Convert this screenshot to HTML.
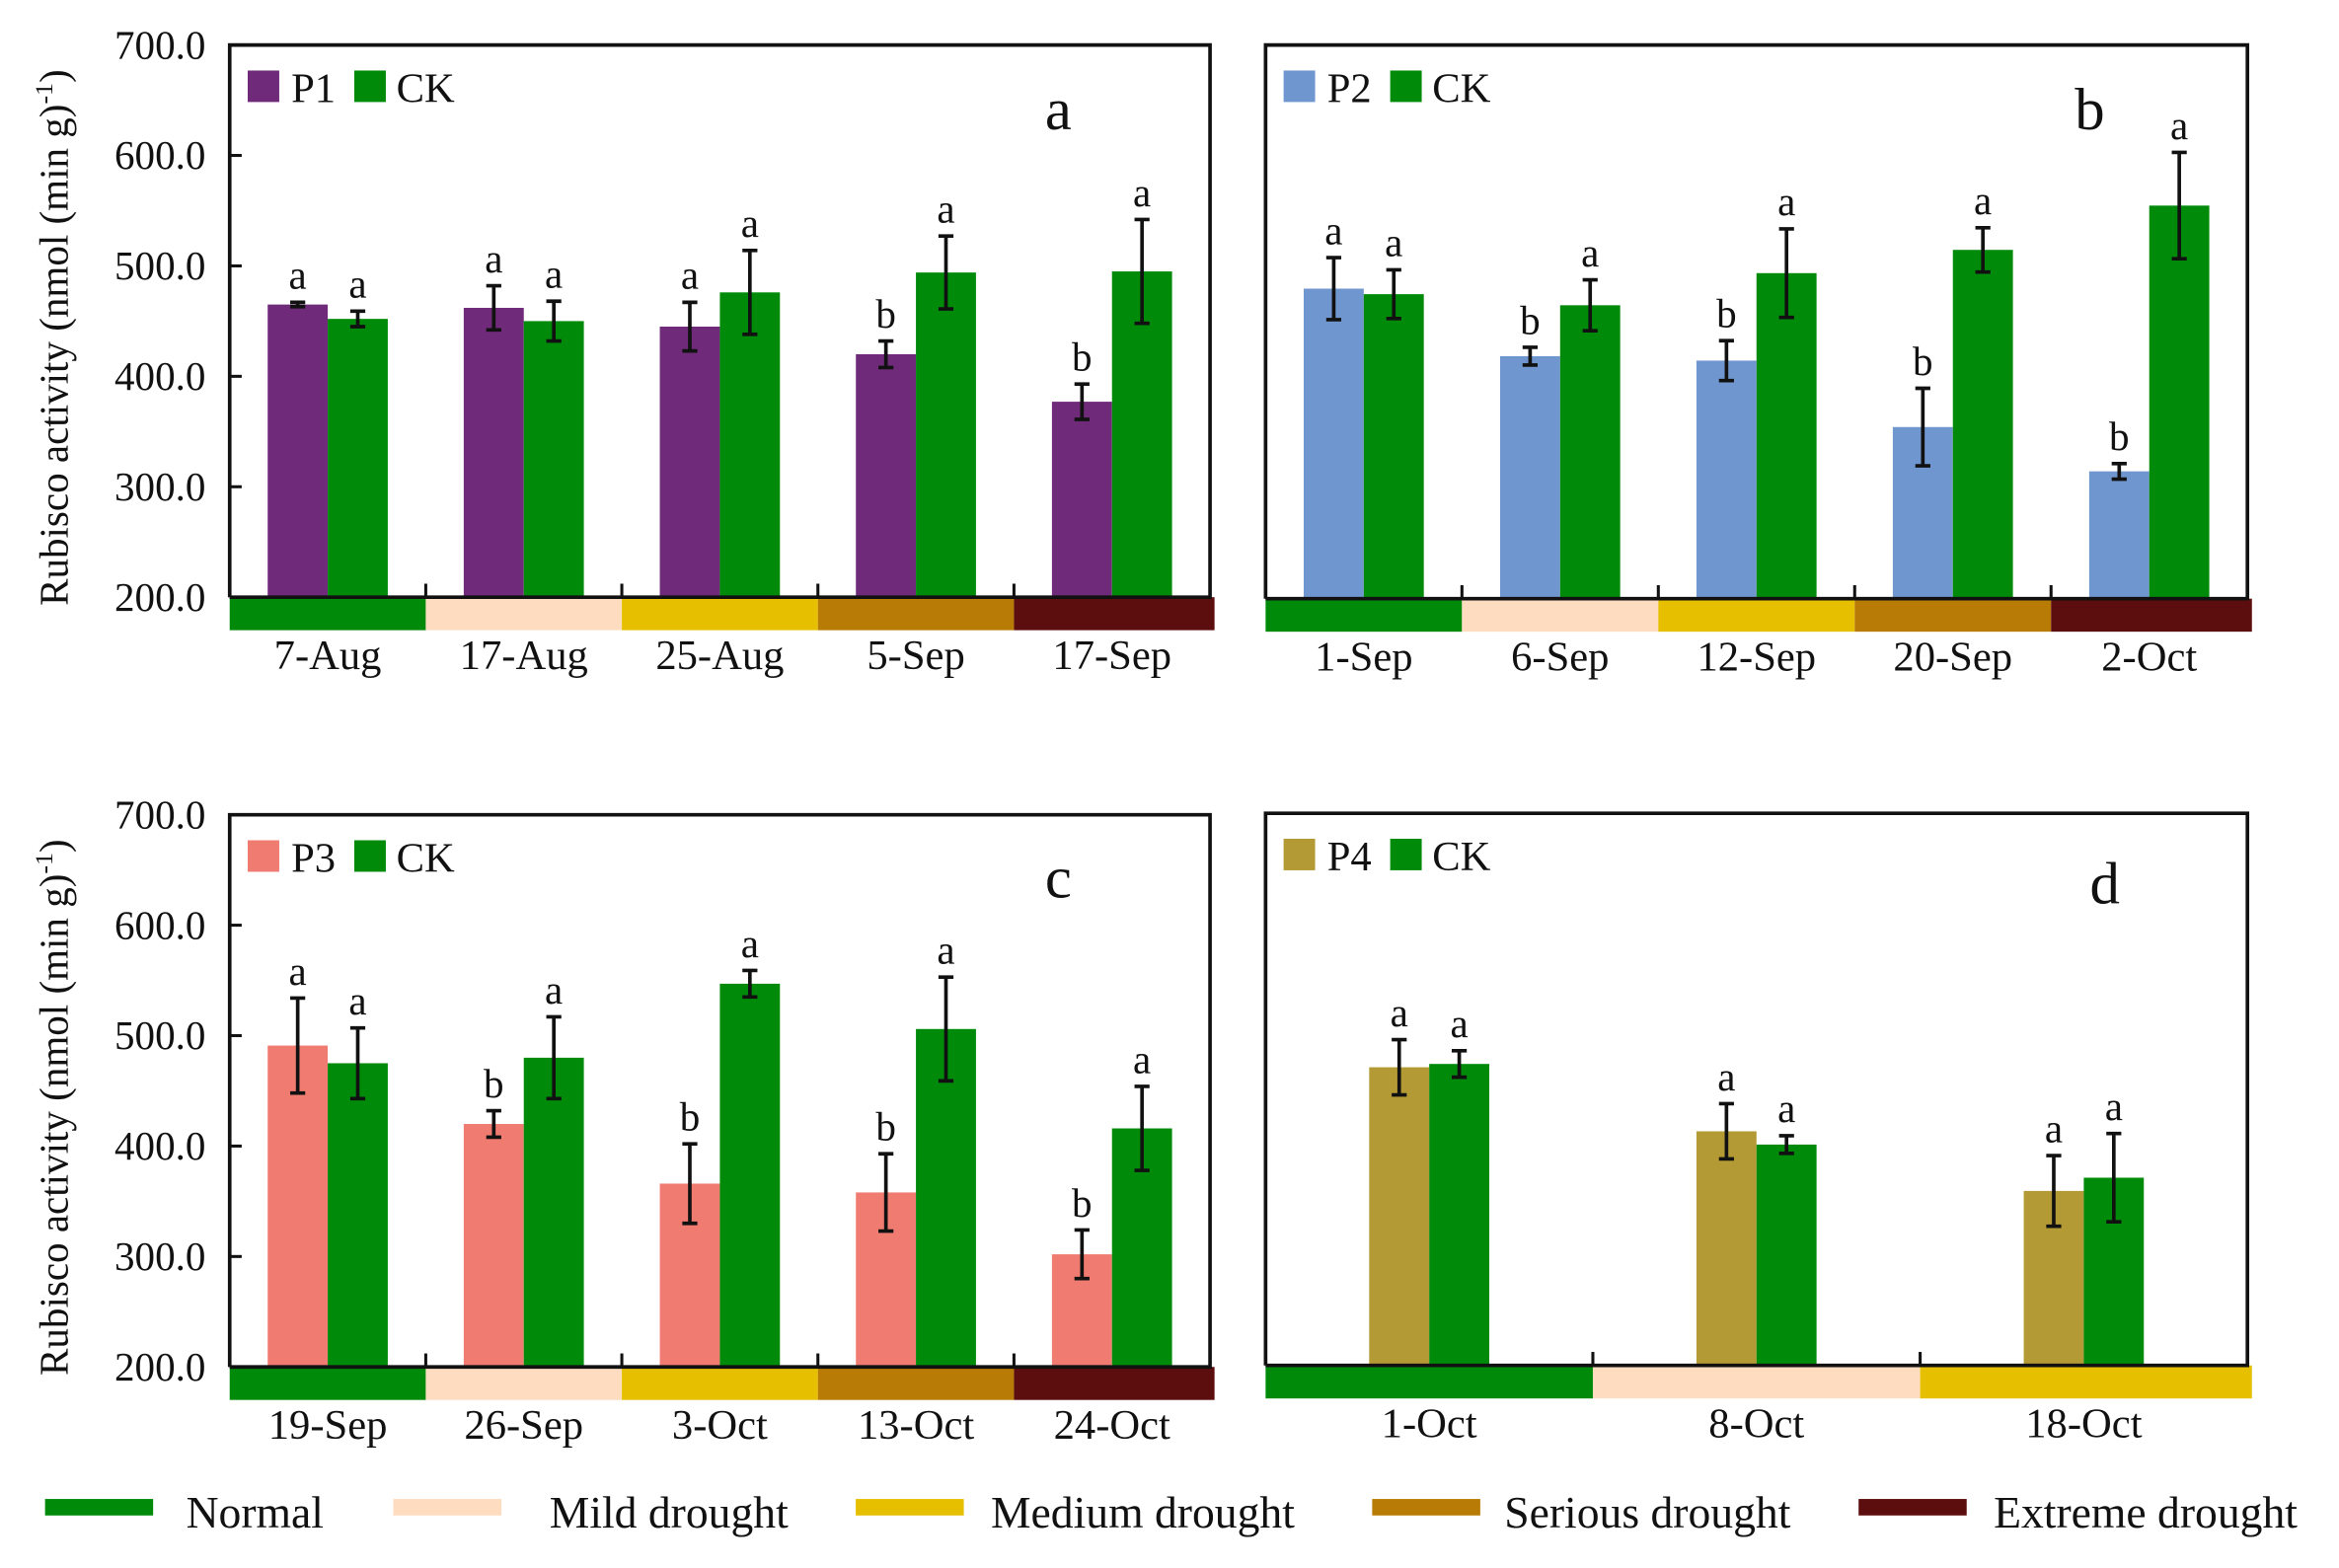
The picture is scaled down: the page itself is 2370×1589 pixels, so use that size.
<!DOCTYPE html>
<html><head><meta charset="utf-8"><style>
html,body{margin:0;padding:0;background:#fff}
svg{display:block}
text{font-family:"Liberation Serif",serif;fill:#111}
</style></head><body>
<svg id="chart" width="2370" height="1589" viewBox="0 0 1558 1045" preserveAspectRatio="none"></svg>
<script>
const panelIds=['a','b','c','d'];
const catsA=['7-Aug','17-Aug','25-Aug','5-Sep','17-Sep'];
const catsB=['1-Sep','6-Sep','12-Sep','20-Sep','2-Oct'];
const catsC=['19-Sep','26-Sep','3-Oct','13-Oct','24-Oct'];
const catsD=['1-Oct','8-Oct','18-Oct'];
const trtA=[465,462,445,420,377], trtAErr=[2,20,22,12,16];
const ckA=[452,450,476,494,495], ckAErr=[7,18,38,33,47];
const trtB=[480,419,415,355,315], trtBErr=[28,8,18,35,7];
const ckB=[475,465,494,515,555], ckBErr=[22,23,40,20,48];
const trtC=[491,420,366,358,302], trtCErr=[43,12,36,35,22];
const ckC=[475,480,547,506,416], ckCErr=[32,37,12,47,38];
const trtD=[470,412,358], trtDErr=[25,25,32];
const ckD=[473,400,370], ckDErr=[12,8,40];
const letA=['a','a','a','b','b'], letB=['a','b','b','b','b'], letC=['a','b','b','b','b'], letD=['a','a','a'];
const yTicks=[200,300,400,500,600,700];
const trtNames=['P1','P2','P3','P4'];
const droughtLabels=['Normal','Mild drought','Medium drought','Serious drought','Extreme drought'];
const droughtColors=['#008a0a','#fddcbf','#e6c000','#b87b05','#5c0d0d'];
const trtColors=['#6f2a7a','#7096cf','#f07b70','#b39a34'];
const CK='#008a0a';
const panels=[
 {x0:153,x1:806,top:30,bot:398,cats:catsA,t:trtA,te:trtAErr,c:ckA,ce:ckAErr,let:letA,lx:705,ly:86,yl:true},
 {x0:843,x1:1497,top:30,bot:399,cats:catsB,t:trtB,te:trtBErr,c:ckB,ce:ckBErr,let:letB,lx:1392,ly:86,yl:false},
 {x0:153,x1:806,top:543,bot:911,cats:catsC,t:trtC,te:trtCErr,c:ckC,ce:ckCErr,let:letC,lx:705,ly:598,yl:true},
 {x0:843,x1:1497,top:542,bot:910,cats:catsD,t:trtD,te:trtDErr,c:ckD,ce:ckDErr,let:letD,lx:1402,ly:602,yl:false}
];
const svg=document.getElementById('chart');
const NS='http://www.w3.org/2000/svg';
function mk(tag,attrs,parent,txt){const e=document.createElementNS(NS,tag);for(const k in attrs)e.setAttribute(k,attrs[k]);if(txt!==undefined)e.textContent=txt;(parent||svg).appendChild(e);return e;}
panels.forEach((p,pi)=>{
 const g=mk('g',{});
 
 
 const y=v=>p.bot-(v-200)*(p.bot-p.top)/500;
 const n=p.cats.length, sw=(p.x1-p.x0)/n, bw=40;
 p.cats.forEach((c,i)=>{
  const r=mk('rect',{x:p.x0+i*sw,y:p.bot,width:sw+(i==n-1?3:0),height:22,fill:droughtColors[i]},g);
  
  
 });
 p.cats.forEach((c,i)=>{
  const cx=p.x0+(i+0.5)*sw;
  [[p.t[i],p.te[i],trtColors[pi],cx-bw,p.let[i],'trt'],[p.c[i],p.ce[i],CK,cx,'a','ck']].forEach(([v,e,col,bx,l,nm])=>{
   const b=mk('rect',{x:bx,y:y(v),width:bw,height:p.bot-y(v),fill:col},g);
   
   
   const ex=bx+bw/2;
   const eb=mk('path',{d:`M${ex},${y(v+e)}V${y(v-e)}M${ex-5},${y(v+e)}H${ex+5}M${ex-5},${y(v-e)}H${ex+5}`,stroke:'#111','stroke-width':2.4,fill:'none'},g);
   
   
   const t=mk('text',{x:ex,y:y(v+e)-9,'font-size':27,'text-anchor':'middle'},g,l);
   
   
  });
  const xl=mk('text',{x:cx,y:p.bot+48,'font-size':28,'text-anchor':'middle'},g,c);
  
  
  if(i>0) mk('line',{x1:p.x0+i*sw,x2:p.x0+i*sw,y1:p.bot,y2:p.bot-9,stroke:'#111','stroke-width':2},g);
 });
 const fr=mk('path',{d:`M${p.x0},${p.bot}V${p.top}H${p.x1}V${p.bot}H${p.x0}`,stroke:'#111','stroke-width':2.4,fill:'none'},g);
 
 
 if(p.yl){
  yTicks.forEach(v=>{
   mk('line',{x1:p.x0,x2:p.x0+8,y1:y(v),y2:y(v),stroke:'#111','stroke-width':2},g);
   const tl=mk('text',{x:p.x0-16,y:y(v)+9,'font-size':27,'text-anchor':'end'},g,v.toFixed(1));
   
   
  });
  const cy=(p.top+p.bot+22)/2;
  const yt=mk('text',{x:0,y:0,'font-size':27,'text-anchor':'middle',transform:`translate(45,${cy}) rotate(-90)`},g);
  
  
  yt.innerHTML='Rubisco activity (nmol (min g)<tspan dy="-10" font-size="17">-1</tspan><tspan dy="10">)</tspan>';
 }
 const lx=p.x0+12, ly=p.top+17;
 const lg=mk('g',{},g);
 
 
 mk('rect',{x:lx,y:ly,width:21,height:21,fill:trtColors[pi]},lg);
 mk('text',{x:lx+29,y:ly+21,'font-size':28},lg,trtNames[pi]);
 mk('rect',{x:lx+71,y:ly,width:21,height:21,fill:CK},lg);
 mk('text',{x:lx+99,y:ly+21,'font-size':28},lg,'CK');
 const pl=mk('text',{x:p.lx,y:p.ly,'font-size':40,'text-anchor':'middle'},g,panelIds[pi]);
 
 
});
const bl=mk('g',{});


const swX=[30,262,570,914,1238], txX=[124,366,660,1002,1328];
droughtLabels.forEach((l,i)=>{
 const e=mk('g',{},bl);
 
 
 mk('rect',{x:swX[i],y:999,width:72,height:11,fill:droughtColors[i]},e);
 mk('text',{x:txX[i],y:1018,'font-size':30},e,l);
});
</script>
</body></html>
